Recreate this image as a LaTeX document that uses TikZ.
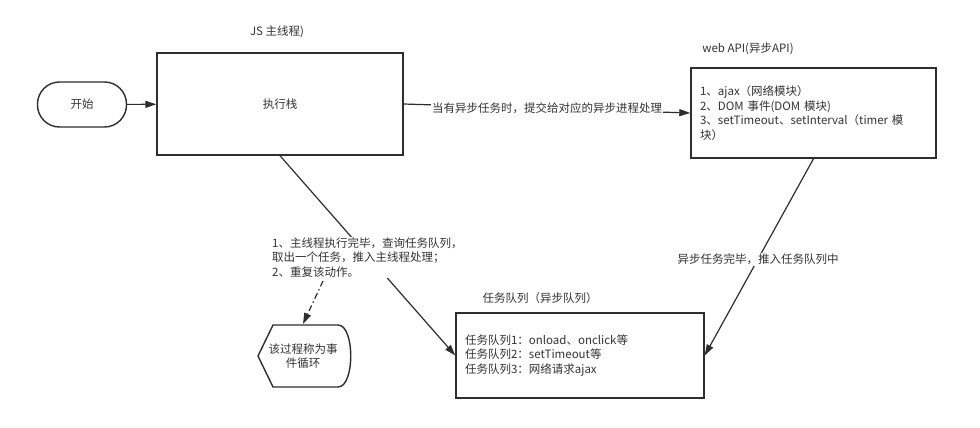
\documentclass[tikz,border=0pt]{standalone}
\usepackage{fontspec}
\setmainfont{Noto Sans CJK SC}
\usetikzlibrary{arrows.meta,calc}
\definecolor{ln}{HTML}{2E2E2E}
\definecolor{txt}{HTML}{333333}
\begin{document}
\begin{tikzpicture}[x=1pt,y=-1pt,
  every node/.style={font=\fontsize{11.5}{14.5}\selectfont, text=txt},
  box/.style={draw=ln, line width=1.4pt, rectangle, inner sep=0pt},
  conn/.style={draw=ln, line width=1.2pt, -{Triangle[length=11pt,width=7pt]}},
  dashconn/.style={conn, dash pattern=on 6pt off 3pt on 1.5pt off 3pt},
  lbl/.style={fill=white, inner sep=1pt},
]
\useasboundingbox[fill=white] (0,0) rectangle (980,428);

% nodes
\node[box, rounded corners=22pt, minimum width=89pt, minimum height=45pt] (start) at (82,104.5) {开始};
\node[box, minimum width=246pt, minimum height=102pt] (exec) at (280,104) {执行栈};
\node (jslbl) at (277,32) {JS 主线程)};

\node (webtitle) at (748,49) {web API(异步API)};
\node[box, minimum width=245pt, minimum height=90pt, text width=227pt, inner xsep=9pt, align=left] (webapi) at (813.5,113)
  {1、ajax（网络模块）\\2、DOM 事件(DOM 模块)\\3、setTimeout、setInterval（timer 模\\块）};

\node (qtitle) at (540,298) {任务队列（异步队列）};
\node[box, minimum width=248pt, minimum height=85pt, text width=230pt, inner xsep=9pt, align=left] (queue) at (580,355.5)
  {任务队列1：onload、onclick等\\任务队列2：setTimeout等\\任务队列3：网络请求ajax};

\node[minimum width=90pt, minimum height=62pt, align=center] (loop) at (303,356) {该过程称为事\\件循环};
\draw[ln, line width=1.4pt, line join=round]
  ($(loop.center)+(-45,0)$) -- ($(loop.center)+(-30,-31)$) -- ($(loop.center)+(35,-31)$)
  .. controls +(17,0) and +(17,0) .. ($(loop.center)+(35,31)$)
  -- ($(loop.center)+(-30,31)$) -- cycle;

% connectors
\draw[conn] (start) -- (exec);
\draw[conn] (exec.east) -- node[lbl, midway] (asynclbl) {当有异步任务时，提交给对应的异步进程处理} (webapi.west);
\draw[conn] (exec.south) -- (queue.west);
\node[lbl, align=left, anchor=west] (steps) at (271,257.5)
  {1、主线程执行完毕，查询任务队列，\\取出一个任务，推入主线程处理；\\2、重复该动作。};
\draw[conn] (webapi.south) -- node[lbl, pos=0.51] (donelbl) {异步任务完毕，推入任务队列中} (queue.east);

\coordinate (dstart) at (323,281);
\coordinate (dend) at (303,324);
\draw[dashconn] (dstart) -- (dend);
\end{tikzpicture}
\end{document}
